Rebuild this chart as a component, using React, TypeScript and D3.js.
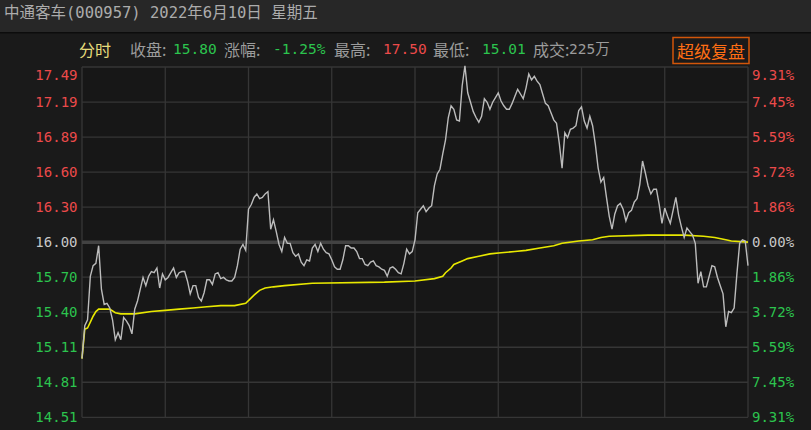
import React from "react";
import * as d3 from "d3";

const PREV_CLOSE = 16.0;
const MAX_PCT = 9.31;

const leftLabels = ["17.49", "17.19", "16.89", "16.60", "16.30", "16.00", "15.70", "15.40", "15.11", "14.81", "14.51"];
const rightLabels = ["9.31%", "7.45%", "5.59%", "3.72%", "1.86%", "0.00%", "1.86%", "3.72%", "5.59%", "7.45%", "9.31%"];

// minute prices, 9:30 .. 11:30 (0..120), 13:01 .. 15:00 (121..240)
const prices = [
  15.01, 15.29, 15.34, 15.71, 15.80, 15.82, 15.97, 15.60, 15.47, 15.48,
  15.44, 15.34, 15.17, 15.23, 15.17, 15.36, 15.33, 15.29, 15.22, 15.43,
  15.50, 15.60, 15.70, 15.63, 15.71, 15.75, 15.74, 15.78, 15.61, 15.73,
  15.68, 15.70, 15.74, 15.78, 15.70, 15.74, 15.75, 15.75, 15.67, 15.56,
  15.63, 15.63, 15.53, 15.50, 15.57, 15.68, 15.68, 15.64, 15.73, 15.74,
  15.69, 15.70, 15.68, 15.67, 15.67, 15.70, 15.80, 15.94, 15.98, 15.93,
  16.28, 16.32, 16.38, 16.41, 16.37, 16.38, 16.41, 16.43, 16.11, 16.19,
  16.09, 15.98, 15.92, 16.04, 15.99, 15.99, 15.91, 15.88, 15.90, 15.83,
  15.80, 15.85, 15.84, 15.95, 15.98, 15.92, 15.99, 15.94, 15.91, 15.90,
  15.85, 15.79, 15.77, 15.77, 15.85, 15.97, 15.97, 15.95, 15.95, 15.92,
  15.86, 15.86, 15.81, 15.80, 15.83, 15.84, 15.80, 15.79, 15.77, 15.76,
  15.71, 15.78, 15.79, 15.77, 15.74, 15.73, 15.82, 15.94, 15.90, 15.92,
  16.02,
  16.25, 16.28, 16.31, 16.26, 16.29, 16.31, 16.48, 16.58, 16.62, 16.75,
  16.87, 17.06, 17.16, 17.13, 17.04, 17.03, 17.33, 17.50, 17.27, 17.19,
  17.11, 17.06, 17.02, 17.07, 17.22, 17.19, 17.13, 17.19, 17.23, 17.27,
  17.20, 17.16, 17.13, 17.13, 17.18, 17.24, 17.30, 17.26, 17.22, 17.31,
  17.43, 17.38, 17.41, 17.37, 17.34, 17.26, 17.18, 17.16, 17.10, 17.04,
  17.01, 16.84, 16.63, 16.93, 16.89, 16.96, 16.97, 16.99, 17.12,
  17.15, 17.03, 16.97, 17.07, 16.99, 16.83, 16.63, 16.51, 16.55, 16.38,
  16.22, 16.11, 16.24, 16.31, 16.33, 16.28, 16.18, 16.25, 16.27, 16.34,
  16.37, 16.49, 16.69, 16.59, 16.48, 16.41, 16.45, 16.45, 16.32, 16.16,
  16.29, 16.22, 16.16, 16.27, 16.38, 16.23, 16.13, 16.04, 16.12, 16.09,
  16.06, 15.99, 15.65, 15.75, 15.62, 15.62, 15.71, 15.80, 15.79, 15.70,
  15.63, 15.56, 15.28, 15.41, 15.40, 15.44, 15.73, 15.99, 16.02, 16.01,
  15.80,
];

// average price line, sampled [minute, price]
const avgMinutes = [0, 1, 2, 3, 4, 5, 6, 10, 12, 14, 19, 25, 30, 35, 40, 45, 50, 55, 59, 62, 64, 66, 69, 73, 83, 109, 120, 127, 130, 131, 133, 134, 137, 139, 143, 147, 151, 156, 160, 165, 170, 173, 179, 184, 187, 190, 204, 217, 224, 228, 232, 234, 240];
const avgPrices = [15.01, 15.26, 15.27, 15.32, 15.37, 15.41, 15.43, 15.43, 15.40, 15.39, 15.39, 15.41, 15.42, 15.43, 15.44, 15.45, 15.46, 15.46, 15.48, 15.55, 15.59, 15.61, 15.62, 15.63, 15.65, 15.66, 15.67, 15.69, 15.71, 15.74, 15.78, 15.81, 15.84, 15.86, 15.88, 15.90, 15.91, 15.92, 15.93, 15.95, 15.97, 15.99, 16.01, 16.02, 16.04, 16.05, 16.06, 16.06, 16.05, 16.04, 16.02, 16.01, 16.00];

const titleText = "中通客车(000957) 2022年6月10日 星期五";
const statNames = ["收盘:", "涨幅:", "最高:", "最低:", "成交:"];
const statValues = ["15.80", "-1.25%", "17.50", "15.01", "225万"];

const W = 811;
const H = 430;
const RED = "#ec4a4a";
const GREEN = "#2cc44e";
const GRAY = "#9c9c9c";
const MONO = "'DejaVu Sans Mono', 'Noto Sans CJK SC', monospace";
const CJK = "'Noto Sans CJK SC', 'DejaVu Sans', sans-serif";

export default function App() {
  const plotL = 82, plotR = 748, plotT = 67, plotB = 417.3;
  const top = PREV_CLOSE * (1 + MAX_PCT / 100);
  const bottom = PREV_CLOSE * (1 - MAX_PCT / 100);
  const x = d3.scaleLinear().domain([0, 240]).range([plotL, plotR]);
  const y = d3.scaleLinear().domain([bottom, top]).range([plotB, plotT]);

  const rows = d3.range(11).map((i) => top - (i * (top - bottom)) / 10);
  const cols = d3.range(9).map((i) => i * 30);

  const priceLine = d3
    .line<number>()
    .x((_, i) => x(i))
    .y((d) => y(d))(prices) as string;
  const avgLine = d3
    .line<number>()
    .x((_, i) => x(avgMinutes[i]))
    .y((d) => y(d))(avgPrices) as string;

  const labelColor = (i: number) => (i < 5 ? RED : i === 5 ? "#c8c8c8" : GREEN);

  const statNameX = [130, 224, 334, 433, 533];
  const statValX = [173, 273, 383, 482, 569];
  const statValColor = [GREEN, GREEN, RED, GREEN, GRAY];

  return (
    <div style={{ position: "absolute", left: 0, top: 0, width: W, height: H }}>
      <svg width={W} height={H} style={{ display: "block" }}>
        <rect x={0} y={0} width={W} height={H} fill="#1a1a1a" />
        <rect x={0} y={0} width={W} height={32} fill="#272727" />
        <rect x={0} y={32} width={W} height={1.5} fill="#0c0c0c" />
        <text x={4} y={13} fontFamily={MONO} fontSize={15.5} fill="#acacac" dominantBaseline="central">
          {titleText}
        </text>

        {/* info row */}
        <text x={79} y={49} fontFamily={CJK} fontSize={16} fill="#e6dc7a" dominantBaseline="central">分时</text>
        {statNames.map((n, i) => (
          <text key={n} x={statNameX[i]} y={49} fontFamily={CJK} fontSize={16} fill={GRAY} dominantBaseline="central">{n}</text>
        ))}
        {statValues.map((v, i) => (
          <text key={v} x={statValX[i]} y={49} fontFamily={MONO} fontSize={14.5} fill={statValColor[i]} dominantBaseline="central">{v}</text>
        ))}
        <rect x={673} y={37.5} width={76} height={26} fill="#1a1a1a" stroke="#d2560a" strokeWidth={1.5} />
        <text x={711} y={50.5} fontFamily={CJK} fontSize={17} fill="#ff6e14" textAnchor="middle" dominantBaseline="central">超级复盘</text>

        {/* plot background */}
        <rect x={plotL} y={plotT} width={plotR - plotL} height={plotB - plotT} fill="#171717" />

        {/* grid */}
        {rows.map((v, i) =>
          i === 5 ? null : (
            <line key={"h" + i} x1={plotL} x2={plotR} y1={y(v)} y2={y(v)} stroke="#363636" strokeWidth={1.3} />
          )
        )}
        {cols.map((c) => (
          <line key={"v" + c} x1={x(c)} x2={x(c)} y1={plotT} y2={plotB} stroke="#363636" strokeWidth={1.3} />
        ))}
        <line x1={plotL} x2={plotR} y1={y(PREV_CLOSE)} y2={y(PREV_CLOSE)} stroke="#424242" strokeWidth={3.5} />

        {/* axis labels */}
        {rows.map((v, i) => {
          const yy = i === 0 ? y(v) + 8 : y(v);
          return (
            <g key={"l" + i}>
              <text x={77.5} y={yy} textAnchor="end" fontFamily={MONO} fontSize={14} fill={labelColor(i)} dominantBaseline="central">
                {leftLabels[i]}
              </text>
              <text x={752} y={yy} textAnchor="start" fontFamily={MONO} fontSize={14} fill={labelColor(i)} dominantBaseline="central">
                {rightLabels[i]}
              </text>
            </g>
          );
        })}

        {/* lines */}
        <path d={avgLine} fill="none" stroke="#e8e800" strokeWidth={1.6} />
        <path d={priceLine} fill="none" stroke="#bcbcbc" strokeWidth={1.4} />
      </svg>
    </div>
  );
}
